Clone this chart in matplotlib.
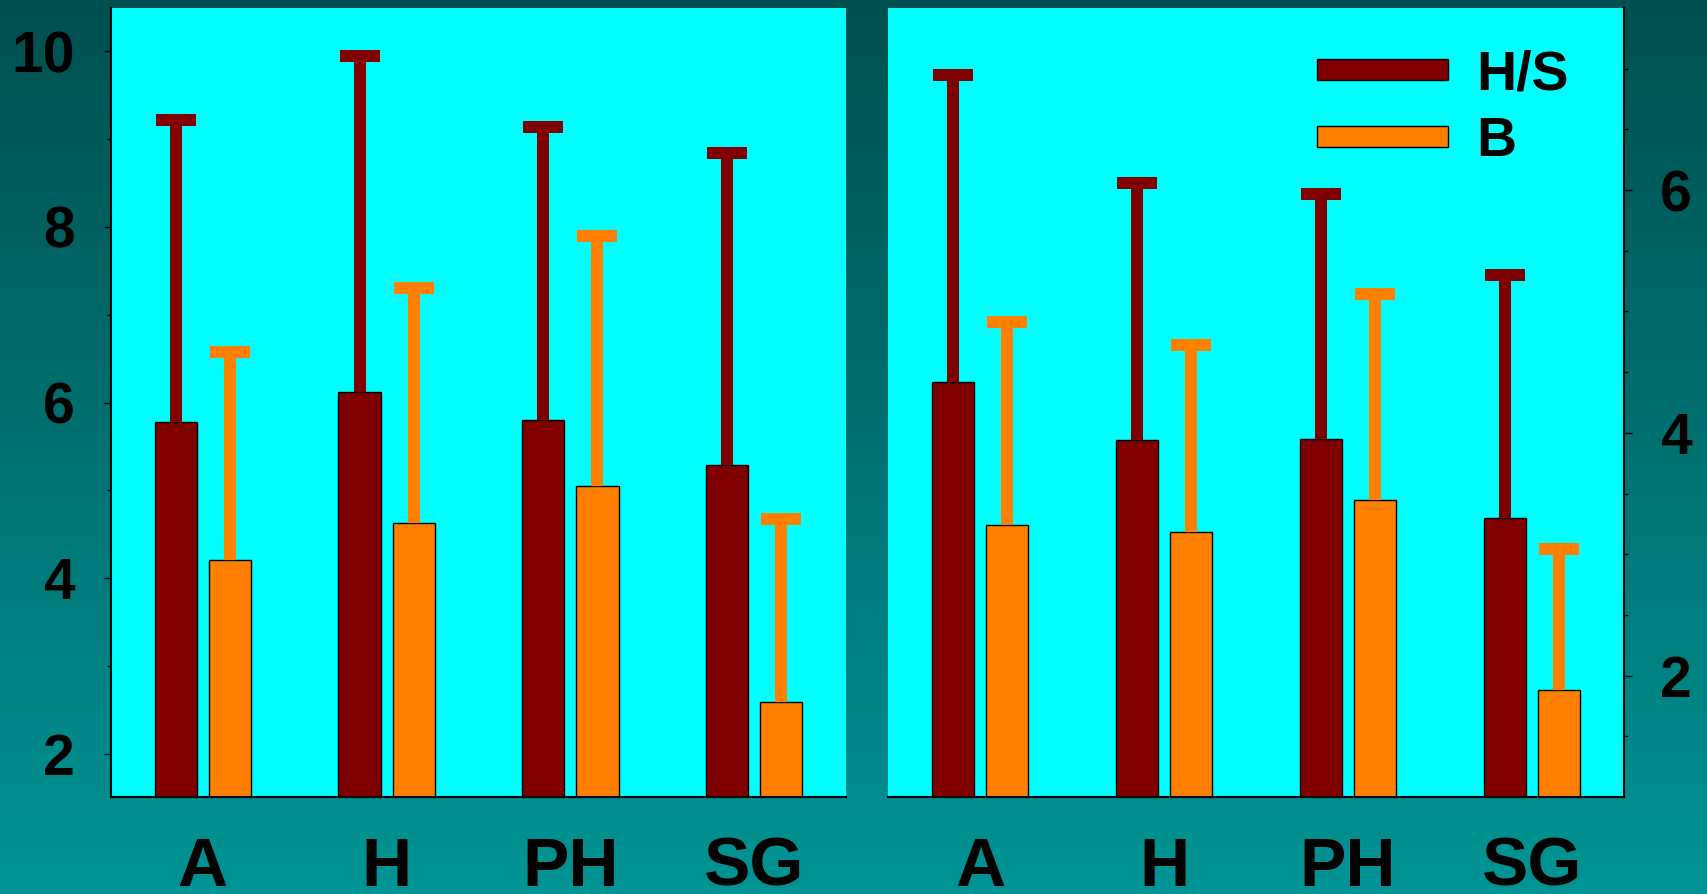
import numpy as np
import matplotlib
matplotlib.use("Agg")
import matplotlib.pyplot as plt

categories = ["A", "H", "PH", "SG"]
series_names = ["H/S", "B"]
colors = ["#800000", "#FF8000"]

# Left panel
left_hs_mean = [5.78, 6.12, 5.80, 5.29]
left_hs_top = [9.21, 9.94, 9.14, 8.84]
left_b_mean = [4.21, 4.63, 5.05, 2.59]
left_b_top = [6.58, 7.30, 7.90, 4.67]

# Right panel
right_hs_mean = [4.42, 3.94, 3.95, 3.30]
right_hs_top = [6.95, 6.06, 5.97, 5.30]
right_b_mean = [3.24, 3.18, 3.45, 1.88]
right_b_top = [4.91, 4.72, 5.14, 3.04]

left_yticks = [2, 4, 6, 8, 10]
right_yticks = [2, 4, 6]

W, H = 1707, 894
fig = plt.figure(figsize=(W / 100, H / 100), dpi=100)

# gradient background
bg = fig.add_axes([0, 0, 1, 1], zorder=-10)
top = np.array([0.0, 0.31, 0.31])
bot = np.array([0.0, 0.58, 0.58])
t = np.linspace(0, 1, 256)[:, None]
grad = top[None, :] * (1 - t) + bot[None, :] * t
bg.imshow(grad[:, None, :], aspect="auto", extent=[0, 1, 0, 1])
bg.set_axis_off()

FONT = "Liberation Sans"
bw = 0.23
off = 0.147
px = 0.72  # points per pixel

def panel(ax, hs_mean, hs_top, b_mean, b_top, ylim, yticks, minor, side):
    x = np.arange(len(categories))
    ax.set_facecolor("#00FFFF")
    means = [hs_mean, b_mean]
    tops = [hs_top, b_top]
    for i, (m, tp) in enumerate(zip(means, tops)):
        xs = x + (-off if i == 0 else off)
        m = np.array(m)
        tp = np.array(tp)
        err = tp - m
        ax.bar(xs, m - ylim[0], bottom=ylim[0], width=bw, color=colors[i],
               edgecolor="black", linewidth=1.0, zorder=2, label=series_names[i])
        _, caps, _ = ax.errorbar(xs, m, yerr=[np.zeros_like(err), err], fmt="none",
                                 ecolor=colors[i], elinewidth=12 * px, capsize=14.4,
                                 capthick=12 * px, zorder=3)
        for c in caps:
            if np.allclose(np.asarray(c.get_ydata(), float), m):
                c.set_visible(False)
    ax.set_xlim(-0.5, 3.5)
    ax.set_ylim(*ylim)
    ax.set_xticks(x)
    ax.set_xticklabels(categories, fontsize=50, fontweight="bold", family=FONT)
    ax.tick_params(axis="x", length=0, pad=28)
    ax.set_yticks(yticks)
    ax.set_yticks(minor, minor=True)
    ax.set_yticklabels([str(v) for v in yticks], fontsize=41, fontweight="bold", family=FONT)
    for s in ax.spines.values():
        s.set_visible(False)
    ax.spines["bottom"].set_visible(True)
    ax.spines["bottom"].set_linewidth(1.5)
    if side == "left":
        ax.spines["left"].set_visible(True)
        ax.spines["left"].set_linewidth(1.5)
        ax.tick_params(axis="y", which="major", length=5.2, width=1.0, pad=21)
        ax.tick_params(axis="y", which="minor", length=3.0, width=1.0)
    else:
        ax.spines["right"].set_visible(True)
        ax.spines["right"].set_linewidth(1.5)
        ax.yaxis.tick_right()
        ax.tick_params(axis="y", which="major", length=6.0, width=1.0, pad=20)
        ax.tick_params(axis="y", which="minor", length=3.0, width=1.0)

axL = fig.add_axes([111 / W, 97 / H, 735 / W, 789 / H])
axR = fig.add_axes([888 / W, 97 / H, 736 / W, 789 / H])

panel(axL, left_hs_mean, left_hs_top, left_b_mean, left_b_top,
      (1.51, 10.49), left_yticks, [3, 5, 7, 9], "left")
panel(axR, right_hs_mean, right_hs_top, right_b_mean, right_b_top,
      (1.0, 7.5), right_yticks, [1.5, 2.5, 3.0, 3.5, 4.5, 5.0, 5.5, 6.5, 7.0], "right")

leg = axR.legend(loc="upper left", bbox_to_anchor=(0.583, 0.947), frameon=False,
                 borderpad=0, borderaxespad=0, handlelength=2.35, handleheight=0.21,
                 handletextpad=0.52, labelspacing=0.26,
                 prop={"family": FONT, "weight": "bold", "size": 40})

fig.savefig("out.png", dpi=100)
